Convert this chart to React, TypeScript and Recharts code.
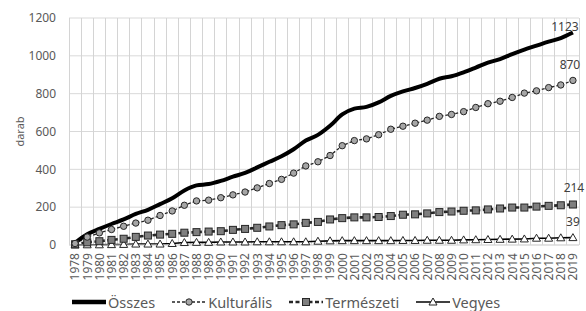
import React from 'react';
import { LineChart, Line, XAxis, YAxis, CartesianGrid, Legend, ReferenceLine } from 'recharts';

const YEARS = [
  1978, 1979, 1980, 1981, 1982, 1983, 1984, 1985, 1986, 1987, 1988, 1989, 1990, 1991,
  1992, 1993, 1994, 1995, 1996, 1997, 1998, 1999, 2000, 2001, 2002, 2003, 2004, 2005,
  2006, 2007, 2008, 2009, 2010, 2011, 2012, 2013, 2014, 2015, 2016, 2017, 2018, 2019,
];
const OSSZES = [
  12, 57, 85, 111, 135, 164, 186, 216, 247, 288, 315, 322, 339, 361,
  381, 410, 440, 469, 506, 552, 582, 630, 690, 721, 730, 754, 788, 812,
  830, 852, 879, 892, 913, 938, 964, 983, 1009, 1033, 1054, 1075, 1094, 1123,
];
const KULTURALIS = [
  8, 42, 64, 82, 99, 116, 131, 156, 180, 210, 233, 237, 250, 265,
  280, 302, 325, 347, 380, 418, 440, 473, 525, 552, 561, 583, 612, 628,
  644, 660, 680, 690, 705, 727, 747, 760, 780, 803, 815, 832, 846, 870,
];
const TERMESZETI = [
  4, 14, 20, 27, 33, 43, 50, 55, 59, 65, 68, 71, 73, 80,
  85, 91, 98, 105, 109, 117, 122, 135, 142, 146, 146, 148, 153, 160,
  162, 167, 174, 177, 181, 183, 188, 193, 198, 198, 203, 207, 210, 214,
];
const VEGYES = [
  0, 1, 1, 2, 3, 5, 5, 5, 8, 13, 14, 14, 16, 16,
  16, 17, 17, 17, 17, 17, 20, 22, 23, 23, 23, 23, 23, 24,
  24, 25, 25, 25, 27, 28, 29, 30, 31, 32, 36, 36, 38, 39,
];
const Y_TICKS = [0, 200, 400, 600, 800, 1000, 1200];
const SERIES_NAMES = ['Összes', 'Kulturális', 'Természeti', 'Vegyes'];
const Y_LABEL = 'darab';

const data = YEARS.map((year, i) => ({
  year,
  osszes: OSSZES[i],
  kulturalis: KULTURALIS[i],
  termeszeti: TERMESZETI[i],
  vegyes: VEGYES[i],
}));
const X_DOMAIN = [YEARS[0] - 0.5, YEARS[YEARS.length - 1] + 0.5];
const GRID_TICKS = [...YEARS.map((y) => y - 0.5), YEARS[YEARS.length - 1] + 0.5];

const FONT = "'Noto Sans', 'Open Sans', sans-serif";
const TEXT = '#595959';
const DARK = '#262626';
const GRID = '#d9d9d9';
const VGRID = '#d4d4d4';
const LAST = YEARS.length - 1;

const XTick = (props: any) => {
  const { x, y, payload } = props;
  return (
    <text
      x={x}
      y={y}
      transform={`rotate(-90, ${x}, ${y})`}
      textAnchor="end"
      dy="0.36em"
      fill={TEXT}
      fontSize={12}
      fontFamily={FONT}
    >
      {payload.value}
    </text>
  );
};

const CircleDot = (p: any) => {
  if (p.cx == null || p.cy == null) return <g key={`c${p.index}`} />;
  return <circle key={`c${p.index}`} cx={p.cx} cy={p.cy} r={3.2} fill="#a6a6a6" stroke={DARK} strokeWidth={1} />;
};
const SquareDot = (p: any) => {
  if (p.cx == null || p.cy == null) return <g key={`s${p.index}`} />;
  return <rect key={`s${p.index}`} x={p.cx - 3.5} y={p.cy - 3.5} width={7} height={7} fill="#7f7f7f" stroke={DARK} strokeWidth={1} />;
};
const TriangleDot = (p: any) => {
  if (p.cx == null || p.cy == null) return <g key={`t${p.index}`} />;
  const { cx, cy } = p;
  return (
    <path
      key={`t${p.index}`}
      d={`M${cx},${cy - 4} L${cx + 4},${cy + 3} L${cx - 4},${cy + 3} Z`}
      fill="#ffffff"
      stroke={DARK}
      strokeWidth={1}
    />
  );
};

const makeEndLabel = (dx: number, dy: number) => (p: any) => {
  if (p.index !== LAST) return <g key={`l${p.index}`} />;
  return (
    <text
      key={`l${p.index}`}
      x={p.x + dx}
      y={p.y + dy}
      textAnchor="middle"
      fill="#404040"
      fontSize={12}
      fontFamily={FONT}
    >
      {p.value}
    </text>
  );
};

const LegendIcon = ({ kind }: { kind: number }) => (
  <svg width={34} height={14} style={{ display: 'block' }}>
    {kind === 0 && <line x1={0} y1={7} x2={34} y2={7} stroke="#000" strokeWidth={4.5} />}
    {kind === 1 && (
      <>
        <line x1={0} y1={7} x2={34} y2={7} stroke={DARK} strokeWidth={1.3} strokeDasharray="3 2" />
        <circle cx={17} cy={7} r={3.2} fill="#a6a6a6" stroke={DARK} strokeWidth={1} />
      </>
    )}
    {kind === 2 && (
      <>
        <line x1={0} y1={7} x2={34} y2={7} stroke={DARK} strokeWidth={2.6} strokeDasharray="4 2.5" />
        <rect x={13.5} y={3.5} width={7} height={7} fill="#7f7f7f" stroke={DARK} strokeWidth={1} />
      </>
    )}
    {kind === 3 && (
      <>
        <line x1={0} y1={7} x2={34} y2={7} stroke="#000" strokeWidth={1.6} />
        <path d="M17,3 L21,10 L13,10 Z" fill="#fff" stroke={DARK} strokeWidth={1} />
      </>
    )}
  </svg>
);

const LegendContent = () => (
  <div
    style={{
      display: 'flex',
      alignItems: 'center',
      paddingLeft: 72,
      paddingTop: 10,
      height: 18,
      fontFamily: FONT,
      fontSize: 14.5,
      color: TEXT,
      whiteSpace: 'nowrap',
    }}
  >
    {SERIES_NAMES.map((name, i) => (
      <div key={name} style={{ display: 'flex', alignItems: 'center', marginRight: 17 }}>
        <LegendIcon kind={i} />
        <span style={{ marginLeft: 2, lineHeight: '18px' }}>{name}</span>
      </div>
    ))}
  </div>
);

export default function App() {
  return (
    <div style={{ position: 'absolute', left: 0, top: 0, background: '#fff' }}>
      <LineChart width={586} height={311} data={data} margin={{ top: 18, right: 7, left: 0, bottom: 0 }}>
        <CartesianGrid stroke={GRID} strokeWidth={1} vertical={false} />
        <CartesianGrid
          stroke={VGRID}
          strokeWidth={1}
          horizontal={false}
          verticalValues={GRID_TICKS}
          shapeRendering="crispEdges"
        />
        <CartesianGrid
          stroke={VGRID}
          strokeWidth={1}
          horizontal={false}
          xAxisId="grid"
          shapeRendering="crispEdges"
        />
        <ReferenceLine x={X_DOMAIN[0]} stroke={VGRID} strokeWidth={1} ifOverflow="visible" shapeRendering="crispEdges" />
        <ReferenceLine x={X_DOMAIN[1]} stroke={VGRID} strokeWidth={1} ifOverflow="visible" shapeRendering="crispEdges" />
        <XAxis
          dataKey="year"
          type="number"
          domain={X_DOMAIN}
          ticks={YEARS}
          interval={0}
          tick={<XTick />}
          tickLine={false}
          tickSize={5}
          tickMargin={3}
          axisLine={{ stroke: GRID }}
          height={38}
        />
        <XAxis
          xAxisId="grid"
          dataKey="year"
          type="number"
          orientation="top"
          domain={X_DOMAIN}
          ticks={GRID_TICKS}
          interval={0}
          tick={false}
          tickLine={false}
          axisLine={false}
          height={0}
        />
        <YAxis
          domain={[0, 1200]}
          ticks={Y_TICKS}
          width={69}
          tickLine={false}
          axisLine={false}
          tickSize={0}
          tickMargin={13}
          tick={{ fill: TEXT, fontSize: 12, fontFamily: FONT }}
          label={{
            value: Y_LABEL,
            angle: -90,
            position: 'insideLeft',
            offset: 20,
            style: { textAnchor: 'middle', fill: TEXT, fontSize: 11, fontFamily: FONT },
          }}
        />
        <Legend verticalAlign="bottom" content={<LegendContent />} />
        <Line
          dataKey="vegyes"
          name={SERIES_NAMES[3]}
          stroke="#000"
          strokeWidth={1.6}
          type="linear"
          dot={TriangleDot}
          activeDot={false}
          label={makeEndLabel(0, -12)}
          isAnimationActive={false}
        />
        <Line
          dataKey="termeszeti"
          name={SERIES_NAMES[2]}
          stroke={DARK}
          strokeWidth={2.6}
          strokeDasharray="4 2.5"
          type="linear"
          dot={SquareDot}
          activeDot={false}
          label={makeEndLabel(1, -13)}
          isAnimationActive={false}
        />
        <Line
          dataKey="kulturalis"
          name={SERIES_NAMES[1]}
          stroke={DARK}
          strokeWidth={1.3}
          strokeDasharray="3 2"
          type="linear"
          dot={CircleDot}
          activeDot={false}
          label={makeEndLabel(-3, -11)}
          isAnimationActive={false}
        />
        <Line
          dataKey="osszes"
          name={SERIES_NAMES[0]}
          stroke="#000"
          strokeWidth={4}
          type="monotone"
          dot={false}
          activeDot={false}
          label={makeEndLabel(-8, -2)}
          isAnimationActive={false}
        />
      </LineChart>
    </div>
  );
}
